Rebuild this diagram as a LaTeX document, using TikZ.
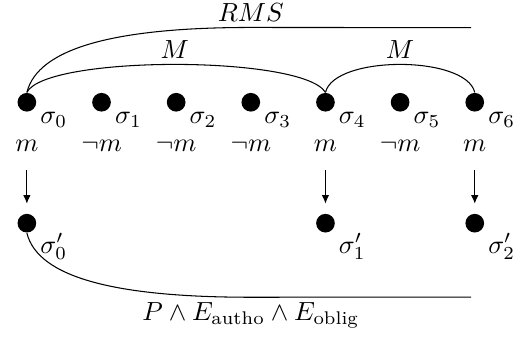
\documentclass[tikz,border=0pt]{standalone}
\usepackage{amsmath,amssymb}
\usetikzlibrary{arrows.meta,positioning}

\begin{document}
\begin{tikzpicture}[
    st/.style={circle,fill=black,inner sep=0pt,minimum size=0.25cm},
    slab/.style={inner sep=1pt,xshift=1.3pt},
    arr/.style={-{Latex[length=3.2pt,width=2.8pt]},shorten <=1.3mm,shorten >=1.3mm},
    lab/.style={inner sep=2pt}
  ]
  \useasboundingbox (-0.36,-3.14) rectangle (6.74,1.37);
  % states of the trace
  \foreach \i/\p in {0/m,1/\neg m,2/\neg m,3/\neg m,4/m,5/\neg m,6/m}{
    \node[st,label={[slab]below right:$\sigma_{\i}$}] (s\i) at (\i,0) {};
    \node (l\i) at (\i,-0.58) {$\p$};
  }
  % projected states
  \foreach \i/\j in {0/0,4/1,6/2}{
    \node[st,label={[slab]below right:$\sigma'_{\j}$}] (p\j) at (\i,-1.62) {};
    \draw[arr] (l\i) -- (p\j);
  }
  \coordinate (rms) at (5.95,1.0);
  \coordinate (peo) at (5.95,-2.61);
  % intervals
  \draw (s0.north) .. controls +(0.25,0.5) and +(-0.3,0.5) .. (s4.north)
    node[lab,above,pos=0.5] {$M$};
  \draw (s4.north) .. controls +(0.12,0.5) and +(-0.12,0.5) .. (s6.north)
    node[lab,above,pos=0.5] {$M$};
  \draw (s0.north) .. controls +(0.15,0.6) and +(-1.8,0) .. ++(3,0.87) -- (rms)
    node[lab,above,pos=0] {$RMS$};
  \draw (p0.south) .. controls +(0.15,-0.6) and +(-1.8,0) .. ++(3,-0.86) -- (peo)
    node[lab,below,pos=0] {$P \wedge E_{\text{autho}} \wedge E_{\text{oblig}}$};
\end{tikzpicture}
\end{document}
